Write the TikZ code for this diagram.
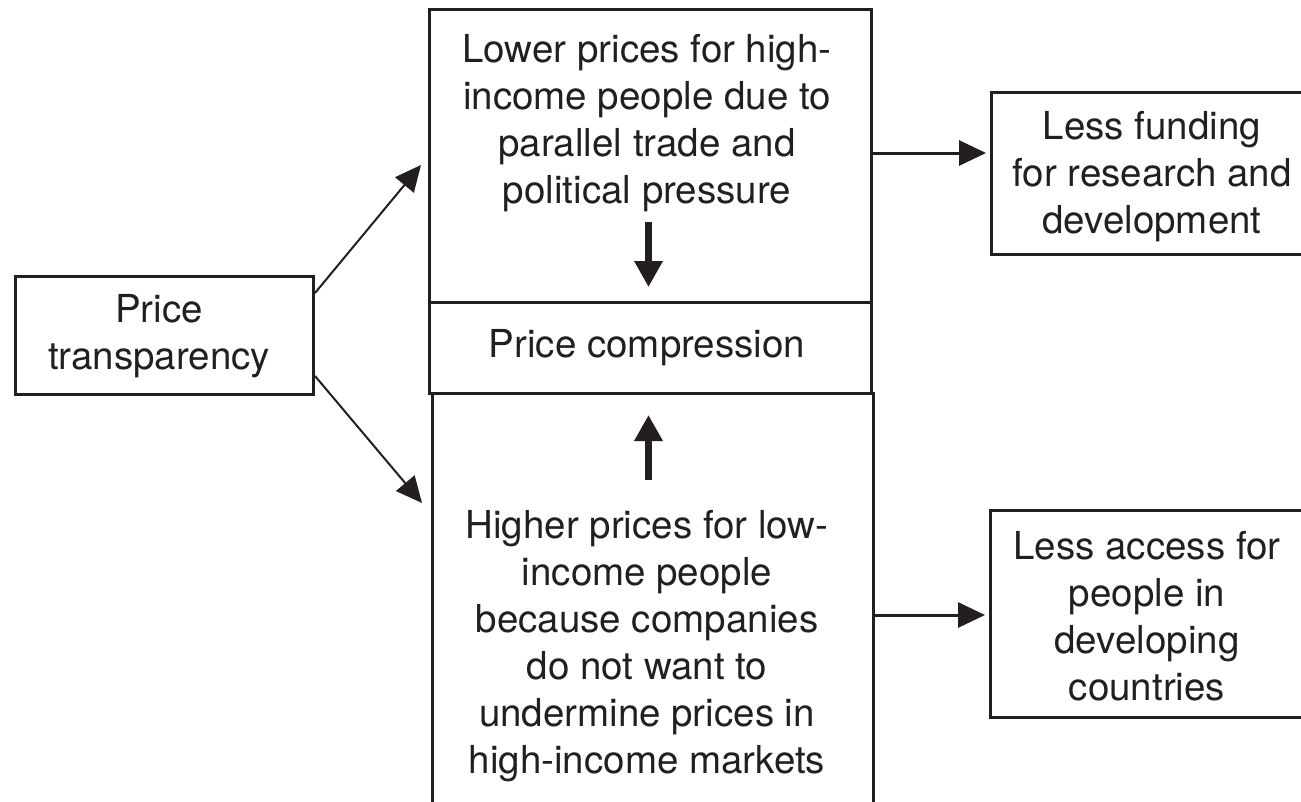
\documentclass[tikz,border=0pt]{standalone}
\usepackage{fontspec}
\setmainfont{TeX Gyre Heros}
\usetikzlibrary{arrows.meta}
\definecolor{ink}{HTML}{231F20}
\begin{document}
\begin{tikzpicture}[x=1pt,y=-1pt,
  box/.style={draw=ink,line width=3pt,inner sep=0pt,anchor=north west},
  lbl/.style={align=center,font=\fontsize{38.5}{47}\selectfont,text=ink,inner sep=0pt},
  thinarrow/.style={draw=ink,line width=2pt,-{Triangle[length=26pt,width=24pt]}},
  midarrow/.style={draw=ink,line width=3pt,-{Triangle[length=27pt,width=25pt]}},
  fatarrow/.style={draw=ink,line width=7pt,-{Triangle[length=26pt,width=27pt]}}]
\useasboundingbox (0,0) rectangle (1301,801);
\clip (0,0) rectangle (1301,801);

% boxes
\node[box,minimum width=298pt,minimum height=118pt] (pt) at (14,275) {};
\node[box,minimum width=442pt,minimum height=293pt] (top) at (428,8) {};
\node[box,minimum width=442pt,minimum height=91pt] (comp) at (428,301) {};
\node[box,minimum width=441pt,minimum height=450pt] (bot) at (431,392) {};
\node[box,minimum width=340pt,minimum height=162pt] (fund) at (990,91) {};
\node[box,minimum width=340pt,minimum height=207pt] (acc) at (989,509) {};

% texts
\node[lbl] (ptT) at (159,336) {Price\\transparency};
\node[lbl] (topT) at (647,123) {Lower prices for high-\\income people due to\\parallel trade and\\political pressure};
\node[lbl] (compT) at (647,348) {Price compression};
\node[lbl] (botT) at (647,646) {Higher prices for low-\\income people\\because companies\\do not want to\\undermine prices in\\high-income markets};
\node[lbl] (fundT) at (1152,177) {Less funding\\for research and\\development};
\node[lbl] (accT) at (1147,616) {Less access for\\people in\\developing\\countries};

% connectors
\draw[thinarrow] ([yshift=-18pt]pt.north east) -- ([xshift=-7pt,yshift=-157pt]top.north west);
\draw[thinarrow] ([yshift=20pt]pt.south east) -- ([xshift=-9pt,yshift=-111pt]bot.north west);
\coordinate (f) at ([yshift=-62pt]fund.north west);
\draw[midarrow] (top.east |- f) -- ([xshift=-4pt]f);
\coordinate (a) at ([yshift=-106pt]acc.north west);
\draw[midarrow] (bot.east |- a) -- ([xshift=-4pt]a);
\draw[fatarrow] ([xshift=-2pt,yshift=79pt]comp.north) -- ([xshift=-2pt,yshift=14pt]comp.north);
\draw[fatarrow] ([xshift=-2pt,yshift=-85pt]comp.south) -- ([xshift=-2pt,yshift=-20pt]comp.south);
\end{tikzpicture}
\end{document}
